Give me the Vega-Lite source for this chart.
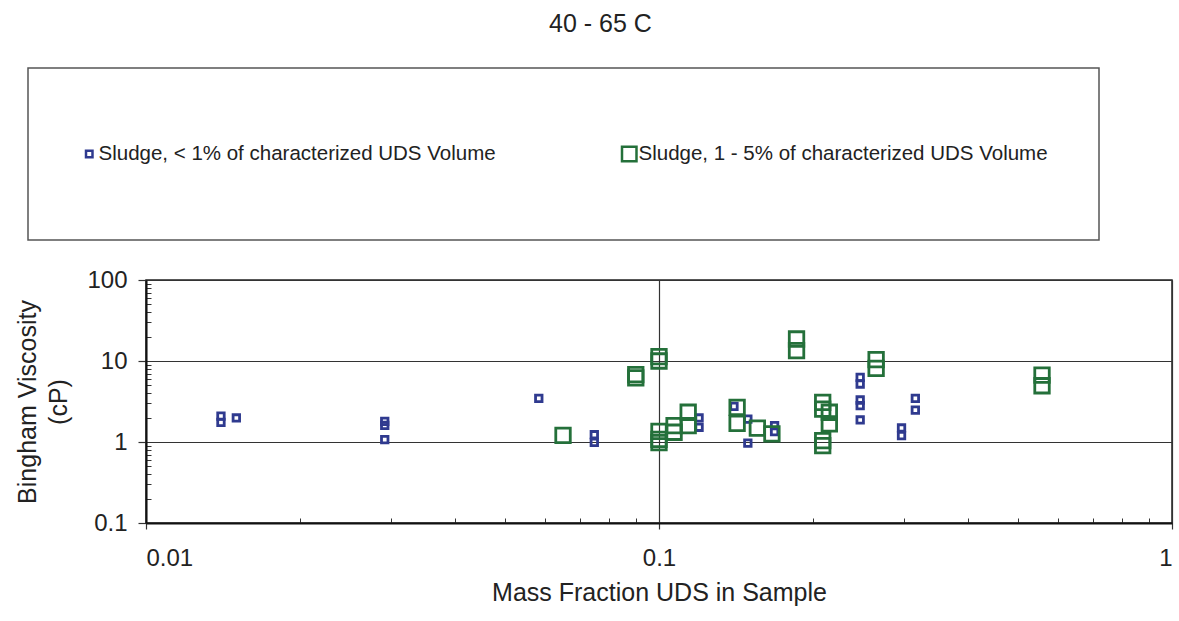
{
  "$schema": "https://vega.github.io/schema/vega-lite/v6.json",
  "width": 1026,
  "height": 243,
  "autosize": {"type": "none"},
  "padding": {"left": 146, "top": 280, "right": 7, "bottom": 98},
  "background": "white",
  "title": {
    "text": "40 - 65 C",
    "anchor": "start",
    "frame": "group",
    "dx": 403,
    "offset": 30,
    "font": "Liberation Sans",
    "fontSize": 25,
    "fontWeight": "normal",
    "color": "#222"
  },
  "config": {
    "font": "Liberation Sans",
    "view": {"stroke": "#222", "strokeWidth": 1.5},
    "legend": {
      "orient": "none",
      "legendX": -118,
      "legendY": -212,
      "direction": "horizontal",
      "columns": 2,
      "columnPadding": 123,
      "padding": 51,
      "strokeColor": "#555",
      "strokeWidth": 1.5,
      "fillColor": "white",
      "labelFont": "Liberation Sans",
      "labelFontSize": 20.5,
      "labelColor": "#222",
      "labelLimit": 0,
      "labelOffset": -1,
      "symbolType": "square",
      "symbolSize": 42,
      "symbolStrokeWidth": 2.5,
      "clipHeight": 70
    }
  },
  "data": {
    "values": [
      {"x": 0.0140, "y": 2.09, "series": "Sludge, < 1% of characterized UDS Volume"},
      {"x": 0.0140, "y": 1.75, "series": "Sludge, < 1% of characterized UDS Volume"},
      {"x": 0.0150, "y": 1.98, "series": "Sludge, < 1% of characterized UDS Volume"},
      {"x": 0.0292, "y": 1.8, "series": "Sludge, < 1% of characterized UDS Volume"},
      {"x": 0.0292, "y": 1.6, "series": "Sludge, < 1% of characterized UDS Volume"},
      {"x": 0.0292, "y": 1.07, "series": "Sludge, < 1% of characterized UDS Volume"},
      {"x": 0.0583, "y": 3.46, "series": "Sludge, < 1% of characterized UDS Volume"},
      {"x": 0.0748, "y": 1.23, "series": "Sludge, < 1% of characterized UDS Volume"},
      {"x": 0.0748, "y": 0.99, "series": "Sludge, < 1% of characterized UDS Volume"},
      {"x": 0.1197, "y": 1.98, "series": "Sludge, < 1% of characterized UDS Volume"},
      {"x": 0.1197, "y": 1.52, "series": "Sludge, < 1% of characterized UDS Volume"},
      {"x": 0.140, "y": 2.76, "series": "Sludge, < 1% of characterized UDS Volume"},
      {"x": 0.149, "y": 1.92, "series": "Sludge, < 1% of characterized UDS Volume"},
      {"x": 0.149, "y": 0.97, "series": "Sludge, < 1% of characterized UDS Volume"},
      {"x": 0.168, "y": 1.59, "series": "Sludge, < 1% of characterized UDS Volume"},
      {"x": 0.168, "y": 1.34, "series": "Sludge, < 1% of characterized UDS Volume"},
      {"x": 0.2467, "y": 6.28, "series": "Sludge, < 1% of characterized UDS Volume"},
      {"x": 0.2467, "y": 5.2, "series": "Sludge, < 1% of characterized UDS Volume"},
      {"x": 0.2467, "y": 3.3, "series": "Sludge, < 1% of characterized UDS Volume"},
      {"x": 0.2467, "y": 2.81, "series": "Sludge, < 1% of characterized UDS Volume"},
      {"x": 0.2467, "y": 1.87, "series": "Sludge, < 1% of characterized UDS Volume"},
      {"x": 0.297, "y": 1.49, "series": "Sludge, < 1% of characterized UDS Volume"},
      {"x": 0.297, "y": 1.2, "series": "Sludge, < 1% of characterized UDS Volume"},
      {"x": 0.316, "y": 3.46, "series": "Sludge, < 1% of characterized UDS Volume"},
      {"x": 0.316, "y": 2.48, "series": "Sludge, < 1% of characterized UDS Volume"},
      {"x": 0.0650, "y": 1.21, "series": "Sludge, 1 - 5% of characterized UDS Volume"},
      {"x": 0.0901, "y": 6.8, "series": "Sludge, 1 - 5% of characterized UDS Volume"},
      {"x": 0.0901, "y": 6.2, "series": "Sludge, 1 - 5% of characterized UDS Volume"},
      {"x": 0.1, "y": 11.3, "series": "Sludge, 1 - 5% of characterized UDS Volume"},
      {"x": 0.1, "y": 10.0, "series": "Sludge, 1 - 5% of characterized UDS Volume"},
      {"x": 0.1, "y": 1.35, "series": "Sludge, 1 - 5% of characterized UDS Volume"},
      {"x": 0.1, "y": 1.08, "series": "Sludge, 1 - 5% of characterized UDS Volume"},
      {"x": 0.1, "y": 0.98, "series": "Sludge, 1 - 5% of characterized UDS Volume"},
      {"x": 0.107, "y": 1.59, "series": "Sludge, 1 - 5% of characterized UDS Volume"},
      {"x": 0.107, "y": 1.32, "series": "Sludge, 1 - 5% of characterized UDS Volume"},
      {"x": 0.114, "y": 2.33, "series": "Sludge, 1 - 5% of characterized UDS Volume"},
      {"x": 0.114, "y": 1.59, "series": "Sludge, 1 - 5% of characterized UDS Volume"},
      {"x": 0.142, "y": 2.68, "series": "Sludge, 1 - 5% of characterized UDS Volume"},
      {"x": 0.142, "y": 1.7, "series": "Sludge, 1 - 5% of characterized UDS Volume"},
      {"x": 0.1555, "y": 1.48, "series": "Sludge, 1 - 5% of characterized UDS Volume"},
      {"x": 0.166, "y": 1.26, "series": "Sludge, 1 - 5% of characterized UDS Volume"},
      {"x": 0.1854, "y": 18.7, "series": "Sludge, 1 - 5% of characterized UDS Volume"},
      {"x": 0.1854, "y": 13.4, "series": "Sludge, 1 - 5% of characterized UDS Volume"},
      {"x": 0.2085, "y": 3.09, "series": "Sludge, 1 - 5% of characterized UDS Volume"},
      {"x": 0.2085, "y": 2.55, "series": "Sludge, 1 - 5% of characterized UDS Volume"},
      {"x": 0.2148, "y": 2.33, "series": "Sludge, 1 - 5% of characterized UDS Volume"},
      {"x": 0.2148, "y": 1.67, "series": "Sludge, 1 - 5% of characterized UDS Volume"},
      {"x": 0.2085, "y": 1.04, "series": "Sludge, 1 - 5% of characterized UDS Volume"},
      {"x": 0.2085, "y": 0.9, "series": "Sludge, 1 - 5% of characterized UDS Volume"},
      {"x": 0.265, "y": 10.4, "series": "Sludge, 1 - 5% of characterized UDS Volume"},
      {"x": 0.265, "y": 8.1, "series": "Sludge, 1 - 5% of characterized UDS Volume"},
      {"x": 0.558, "y": 6.71, "series": "Sludge, 1 - 5% of characterized UDS Volume"},
      {"x": 0.558, "y": 4.95, "series": "Sludge, 1 - 5% of characterized UDS Volume"}
    ]
  },
  "resolve": {"axis": {"x": "independent", "y": "independent"}},
  "layer": [
    {
      "mark": {"type": "point", "opacity": 0},
      "encoding": {
        "x": {
          "field": "x", "type": "quantitative",
          "scale": {"type": "log", "domain": [0.01, 1]},
          "axis": {
            "orient": "bottom",
            "values": [0.02, 0.03, 0.04, 0.05, 0.06, 0.07, 0.08, 0.09, 0.2, 0.3, 0.4, 0.5, 0.6, 0.7, 0.8, 0.9],
            "labels": false, "domain": false, "grid": false, "title": null,
            "tickSize": -5, "tickColor": "#333", "tickWidth": 1
          }
        },
        "y": {
          "field": "y", "type": "quantitative",
          "scale": {"type": "log", "domain": [0.1, 100]},
          "axis": {
            "orient": "left",
            "values": [0.2, 0.3, 0.4, 0.5, 0.6, 0.7, 0.8, 0.9, 2, 3, 4, 5, 6, 7, 8, 9, 20, 30, 40, 50, 60, 70, 80, 90],
            "labels": false, "domain": false, "grid": false, "title": null,
            "tickSize": -5, "tickColor": "#333", "tickWidth": 1
          }
        }
      }
    },
    {
      "mark": {"type": "point", "shape": "square", "filled": false, "strokeWidth": 2.8, "opacity": 1},
      "encoding": {
        "x": {
          "field": "x", "type": "quantitative",
          "scale": {"type": "log", "domain": [0.01, 1]},
          "axis": {
            "orient": "bottom",
            "values": [0.01, 0.1, 1],
            "format": "~g",
            "grid": true, "gridColor": "#333", "gridWidth": 1.2, "gridOpacity": 1,
            "domainColor": "#111", "domainWidth": 2,
            "tickSize": 6, "tickColor": "#333", "tickWidth": 1.2,
            "labelFontSize": 24, "labelColor": "#222", "labelPadding": 17, "labelFont": "Liberation Sans",
            "title": "Mass Fraction UDS in Sample",
            "titleFontSize": 25, "titleFontWeight": "normal", "titleColor": "#222", "titleFont": "Liberation Sans",
            "titlePadding": 10
          }
        },
        "y": {
          "field": "y", "type": "quantitative",
          "scale": {"type": "log", "domain": [0.1, 100]},
          "axis": {
            "orient": "left",
            "values": [0.1, 1, 10, 100],
            "format": "~g",
            "grid": true, "gridColor": "#333", "gridWidth": 1.2, "gridOpacity": 1,
            "domainColor": "#111", "domainWidth": 2,
            "tickSize": 8, "tickColor": "#333", "tickWidth": 1.2,
            "labelFontSize": 24, "labelColor": "#222", "labelPadding": 11, "labelFont": "Liberation Sans",
            "title": ["Bingham Viscosity", "(cP)"],
            "titleFontSize": 25, "titleFontWeight": "normal", "titleColor": "#222", "titleFont": "Liberation Sans",
            "titleLineHeight": 31,
            "titlePadding": 15
          }
        },
        "color": {
          "field": "series", "type": "nominal",
          "scale": {
            "domain": ["Sludge, < 1% of characterized UDS Volume", "Sludge, 1 - 5% of characterized UDS Volume"],
            "range": ["#2f3a8f", "#24703a"]
          },
          "legend": {"title": null}
        },
        "size": {
          "field": "series", "type": "nominal",
          "scale": {
            "domain": ["Sludge, < 1% of characterized UDS Volume", "Sludge, 1 - 5% of characterized UDS Volume"],
            "range": [42, 210]
          },
          "legend": null
        }
      }
    }
  ]
}
